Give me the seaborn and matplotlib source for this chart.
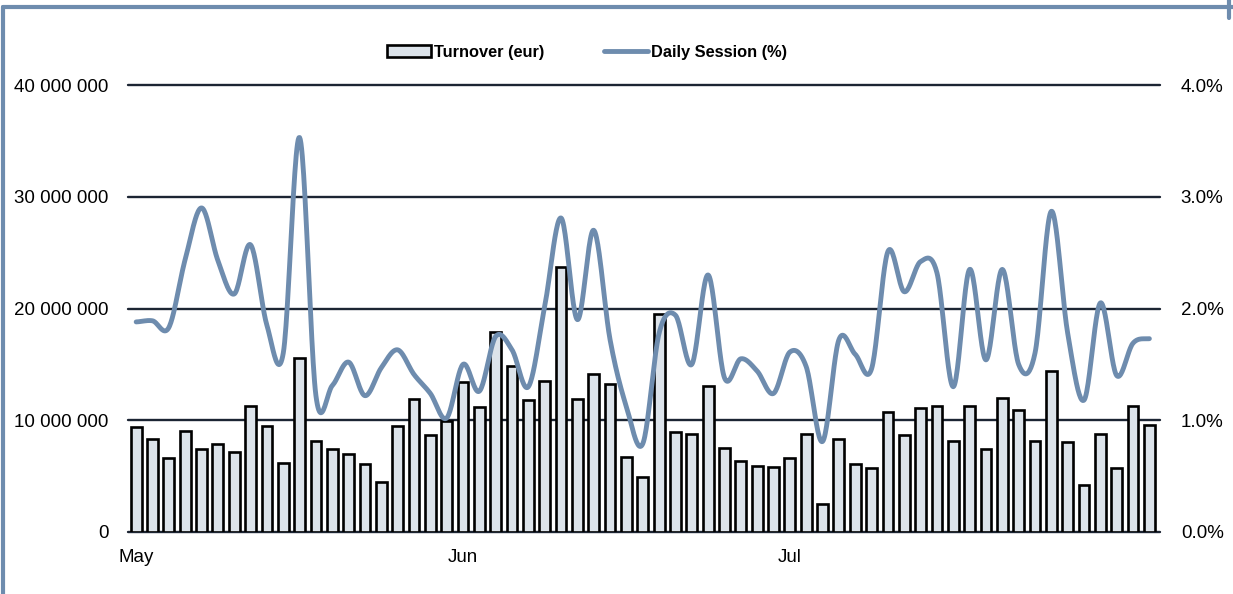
"""
Turnover vs daily session share, May-Jul.
"""
import numpy as np
import matplotlib
matplotlib.use('Agg')
import matplotlib.pyplot as plt
from matplotlib.lines import Line2D
from matplotlib.patches import Patch
import seaborn as sns

# turnover per trading day (eur)
turnover = [9.4, 8.3, 6.65, 9.0, 7.45, 7.9, 7.15, 11.25, 9.45, 6.15,
            15.6, 8.15, 7.4, 6.95, 6.05, 4.45, 9.5, 11.9, 8.65, 9.9,
            13.4, 11.2, 17.9, 14.85, 11.8, 13.55, 23.7, 11.9, 14.15, 13.2,
            6.7, 4.9, 19.5, 8.95, 8.75, 13.1, 7.5, 6.35, 5.9, 5.85,
            6.65, 8.8, 2.55, 8.35, 6.05, 5.7, 10.75, 8.7, 11.1, 11.3,
            8.15, 11.25, 7.4, 12.0, 10.95, 8.15, 14.45, 8.05, 4.2, 8.75,
            5.7, 11.3, 9.55]
turnover = [v * 1e6 for v in turnover]

# daily session share (%)
session = [1.88, 1.89, 1.83, 2.44, 2.90, 2.43, 2.13, 2.57, 1.85, 1.60,
           3.53, 1.22, 1.31, 1.52, 1.22, 1.47, 1.63, 1.41, 1.24, 1.02,
           1.50, 1.26, 1.75, 1.63, 1.30, 2.02, 2.81, 1.90, 2.70, 1.72,
           1.12, 0.79, 1.78, 1.94, 1.50, 2.30, 1.38, 1.55, 1.44, 1.24,
           1.61, 1.48, 0.81, 1.72, 1.59, 1.46, 2.51, 2.15, 2.42, 2.32,
           1.30, 2.35, 1.54, 2.35, 1.50, 1.60, 2.87, 1.78, 1.18, 2.05,
           1.40, 1.69, 1.73]

month_pos = [0, 20, 40]
month_labels = ['May', 'Jun', 'Jul']
left_ticks = [0, 10e6, 20e6, 30e6, 40e6]
left_labels = ['0', '10 000 000', '20 000 000', '30 000 000', '40 000 000']
right_ticks = [0, 1, 2, 3, 4]
right_labels = ['0.0%', '1.0%', '2.0%', '3.0%', '4.0%']

BAR_FILL = '#dce3ea'
LINE_COLOR = '#6e8cae'
GRID_COLOR = '#1c2533'


def catmull_rom(y, n=24):
    """Smooth a series the way spreadsheet 'smoothed lines' do."""
    y = np.asarray(y, dtype=float)
    p = np.concatenate([[y[0]], y, [y[-1]]])
    xs, ys = [], []
    t = np.linspace(0, 1, n, endpoint=False)
    for i in range(len(y) - 1):
        p0, p1, p2, p3 = p[i], p[i + 1], p[i + 2], p[i + 3]
        seg = 0.5 * (2 * p1 + (-p0 + p2) * t
                     + (2 * p0 - 5 * p1 + 4 * p2 - p3) * t ** 2
                     + (-p0 + 3 * p1 - 3 * p2 + p3) * t ** 3)
        xs.append(i + t)
        ys.append(seg)
    xs.append([len(y) - 1])
    ys.append([y[-1]])
    return np.concatenate(xs), np.concatenate(ys)


sns.set_style('white')
plt.rcParams['font.family'] = ['Liberation Sans', 'DejaVu Sans']
plt.rcParams['text.color'] = 'black'
plt.rcParams['xtick.color'] = 'black'
plt.rcParams['ytick.color'] = 'black'

fig = plt.figure(figsize=(12.33, 5.94), dpi=100)
ax = fig.add_axes([128 / 1233, 1 - 532 / 594, 1032 / 1233, 447 / 594])

idx = np.arange(len(turnover))
sns.barplot(x=idx, y=turnover, ax=ax, color=BAR_FILL, saturation=1,
            edgecolor='black', linewidth=1.9, width=0.66, zorder=2)

ax.set_ylim(0, 40e6)
ax.set_xlim(-0.5, 62.65)
ax.set_yticks(left_ticks)
ax.set_yticklabels(left_labels, fontsize=13.5)
ax.set_xticks(month_pos)
ax.set_xticklabels(month_labels, fontsize=13.5)
ax.tick_params(axis='both', length=0)
ax.tick_params(axis='y', pad=14)
ax.tick_params(axis='x', pad=12)
ax.set_axisbelow(True)
ax.grid(axis='y', color=GRID_COLOR, linewidth=1.7)
ax.grid(axis='x', visible=False)
for gl in ax.get_ygridlines():
    gl.set_clip_on(False)
ax.set_xlabel('')
ax.set_ylabel('')
for s in ax.spines.values():
    s.set_visible(False)

ax2 = ax.twinx()
sx, sy = catmull_rom(session)
ax2.plot(sx, sy, color=LINE_COLOR, linewidth=3.5, solid_capstyle='round',
         zorder=3)
ax2.set_ylim(0, 4)
ax2.set_yticks(right_ticks)
ax2.set_yticklabels(right_labels, fontsize=13.5)
ax2.tick_params(axis='y', length=0, pad=15)
ax2.grid(False)
for s in ax2.spines.values():
    s.set_visible(False)

handles = [Patch(facecolor=BAR_FILL, edgecolor='black', linewidth=1.9),
           Line2D([0], [0], color=LINE_COLOR, linewidth=3.5)]
fig.legend(handles, ['Turnover (eur)', 'Daily Session (%)'],
           loc='center', bbox_to_anchor=(0.476, 0.912), ncol=2,
           frameon=False, handlelength=2.7, handleheight=0.7,
           handletextpad=0.2, columnspacing=3.6,
           prop={'weight': 'bold', 'size': 11.8})

# outer frame lines (top and left edge of the original panel)
frame_kw = dict(color=LINE_COLOR, linewidth=3, transform=fig.transFigure)
fig.add_artist(Line2D([3 / 1233, 1], [1 - 7 / 594, 1 - 7 / 594], **frame_kw))
fig.add_artist(Line2D([3 / 1233, 3 / 1233], [0, 1 - 7 / 594], **frame_kw))
fig.add_artist(Line2D([1229 / 1233, 1229 / 1233], [1 - 18 / 594, 1], **frame_kw))

fig.savefig('out.png', dpi=100)
plt.close(fig)
